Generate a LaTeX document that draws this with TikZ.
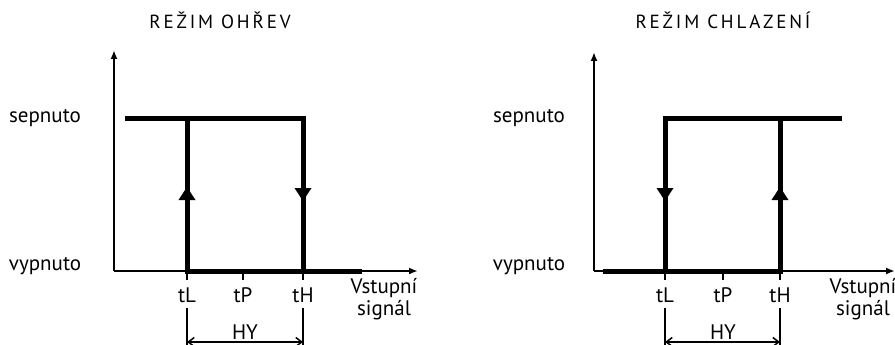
\documentclass[tikz,border=0pt]{standalone}
\usepackage{fontspec}
\setmainfont{PT Sans}
\newfontfamily\titlefont[LetterSpace=15]{PT Sans}
\usetikzlibrary{arrows.meta}

% filled arrow head on a heavy line: tip point, direction (+1 up, -1 down)
\newcommand{\flowhead}[2]{\fill #1 -- ++(-8.5,13*#2) -- ++(17,0) -- cycle;}

\begin{document}
\begin{tikzpicture}[x=1pt, y=-1pt,
    every node/.style={font=\fontsize{21}{22}\selectfont, inner sep=0pt},
    axis/.style={line width=1.8pt, -{Latex[length=9pt,width=7pt]}},
    heavy/.style={line width=5pt, line join=miter},
    tick/.style={line width=1.8pt},
    dimline/.style={line width=1.5pt},
    dimarrow/.style={line width=1.5pt,
        {Straight Barb[length=6pt,width=9pt]}-{Straight Barb[length=6pt,width=9pt]}},
    title/.style={font=\titlefont\fontsize{19}{22}\selectfont, anchor=base},
    tlabel/.style={font=\fontsize{21}{22}\selectfont, anchor=base},
]
\useasboundingbox (0,0) rectangle (895,345);

% Heating mode
\node[title] (heattitle) at (220,29) {REŽIM OHŘEV};
\coordinate (ho) at (114,271);
\coordinate (hytop) at (114,50);
\coordinate (hxend) at (418,271);
\draw[axis] (ho) -- (hytop);
\draw[axis] (ho) -- (hxend);
\node (hon) at (45,118) {sepnuto};
\node (hoff) at (45,266) {vypnuto};

\coordinate (hLt) at (187,118);
\coordinate (hLb) at (187,271);
\coordinate (hHt) at (303,118);
\coordinate (hHb) at (303,271);
\draw[heavy] (125,118) -- (hHt) -- (hHb);
\draw[heavy] (362,271) -- (hLb) -- (hLt);
\coordinate (hup) at (187,187);
\coordinate (hdown) at (303,201);
\flowhead{(hup)}{1}
\flowhead{(hdown)}{-1}

% ticks and labels
\draw[tick] (hLb) -- ++(0,9);
\draw[tick] (243,271) -- ++(0,9);
\draw[tick] (hHb) -- ++(0,9);
\node[tlabel] (htL) at (187,302) {tL};
\node[tlabel] (htP) at (243,302) {tP};
\node[tlabel] (htH) at (303,302) {tH};
\node[anchor=base, align=center] (hinput) at (384,315) {Vstupní\\signál};

% hysteresis band
\draw[dimline] (187,308) -- (187,345);
\draw[dimline] (303,308) -- (303,345);
\coordinate (hdL) at (187,342);
\coordinate (hdH) at (303,342);
\draw[dimarrow] (hdL) -- (hdH);
\node[anchor=base] (hhy) at (245,339) {HY};

% Cooling mode
\begin{scope}[xshift=480pt]
\node[title] (cooltitle) at (243,29) {REŽIM CHLAZENÍ};
\coordinate (co) at (114,271);
\coordinate (cytop) at (114,52);
\coordinate (cxend) at (415,271);
\draw[axis] (co) -- (cytop);
\draw[axis] (co) -- (cxend);
\node (con) at (49,118) {sepnuto};
\node (coff) at (49,266) {vypnuto};

\coordinate (cLt) at (185,118);
\coordinate (cLb) at (185,271);
\coordinate (cHt) at (300,118);
\coordinate (cHb) at (300,271);
\draw[heavy] (362,118) -- (cLt) -- (cLb);
\draw[heavy] (123,271) -- (cHb) -- (cHt);
\coordinate (cdown) at (185,201);
\coordinate (cup) at (300,187);
\flowhead{(cdown)}{-1}
\flowhead{(cup)}{1}

% ticks and labels
\draw[tick] (cLb) -- ++(0,9);
\draw[tick] (243,271) -- ++(0,9);
\draw[tick] (cHb) -- ++(0,9);
\node[tlabel] (ctL) at (185,302) {tL};
\node[tlabel] (ctP) at (243,302) {tP};
\node[tlabel] (ctH) at (300,302) {tH};
\node[anchor=base, align=center] (cinput) at (383,315) {Vstupní\\signál};

% hysteresis band
\draw[dimline] (185,308) -- (185,345);
\draw[dimline] (300,308) -- (300,345);
\coordinate (cdL) at (185,342);
\coordinate (cdH) at (300,342);
\draw[dimarrow] (cdL) -- (cdH);
\node[anchor=base] (chy) at (243,339) {HY};
\end{scope}

\end{tikzpicture}
\end{document}
